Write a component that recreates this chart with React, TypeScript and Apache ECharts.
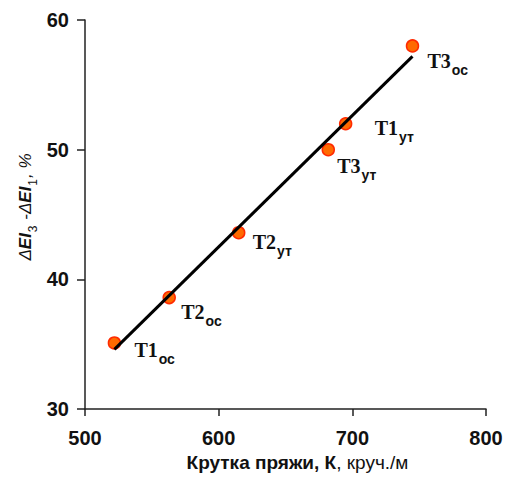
import React, { useEffect, useRef } from "react";
import * as echarts from "echarts";

// Data
const sampleNames = ["T1", "T2", "T2", "T3", "T1", "T3"];
const sampleSubs = ["ос", "ос", "ут", "ут", "ут", "ос"];
const twist = [522, 563, 615, 682, 695, 745];
const deltaEI = [35.1, 38.6, 43.6, 50.0, 52.0, 58.0];
const fitX = [522, 745];
const fitY = [34.6, 57.2];
const xTicks = [500, 600, 700, 800];
const yTicks = [30, 40, 50, 60];

// label offsets (style only)
const labelOffsets: [number, number][] = [
  [20, 10],
  [12, 17],
  [14, 12],
  [9, 19],
  [29, 7],
  [15, 18],
];

const SANS = "Liberation Sans, Arial, sans-serif";
const SERIF = "Liberation Serif, Times New Roman, serif";

export default function App() {
  const ref = useRef<HTMLDivElement>(null);
  useEffect(() => {
    if (!ref.current) return;
    const chart = echarts.init(ref.current, undefined, { renderer: "svg" });
    const axisColor = "#222";
    const option: any = {
      animation: false,
      grid: { left: 85, right: 20, top: 20, bottom: 67 },
      xAxis: {
        type: "value",
        min: xTicks[0],
        max: xTicks[xTicks.length - 1],
        interval: 100,
        axisLine: { show: true, onZero: false, lineStyle: { color: axisColor, width: 1.5 } },
        axisTick: { show: true, inside: false, length: 7, lineStyle: { color: axisColor, width: 1.5 } },
        splitLine: { show: false },
        axisLabel: {
          margin: 19,
          color: "#111",
          fontSize: 20,
          fontWeight: "bold",
          fontFamily: SANS,
        },
        name: "{b|Крутка пряжи, К}{n|, круч./м}",
        nameLocation: "middle",
        nameGap: 41,
        nameTextStyle: {
          padding: [0, 0, 0, 24],
          rich: {
            b: { fontSize: 19, fontWeight: "bold", color: "#111", fontFamily: SANS },
            n: { fontSize: 19, fontWeight: "normal", color: "#111", fontFamily: SANS },
          },
        },
      },
      yAxis: {
        type: "value",
        min: yTicks[0],
        max: yTicks[yTicks.length - 1],
        interval: 10,
        axisLine: { show: true, onZero: false, lineStyle: { color: axisColor, width: 1.5 } },
        axisTick: { show: true, inside: false, length: 8, lineStyle: { color: axisColor, width: 1.5 } },
        splitLine: { show: false },
        axisLabel: {
          margin: 16,
          color: "#111",
          fontSize: 20,
          fontWeight: "bold",
          fontFamily: SANS,
        },
      },
      graphic: [
        {
          type: "text",
          x: 28,
          y: 207,
          rotation: Math.PI / 2,
          style: {
            text: "{n|Δ}{e|EI}{s|3}{n| -Δ}{e|EI}{s|1}{n|, %}",
            align: "center",
            verticalAlign: "middle",
            rich: {
              n: { fontSize: 17, fontStyle: "italic", fill: "#111", fontFamily: SANS, verticalAlign: "top", lineHeight: 22 },
              e: { fontSize: 17, fontStyle: "italic", fontWeight: "bold", fill: "#111", fontFamily: SANS, verticalAlign: "top", lineHeight: 22 },
              s: { fontSize: 12, fill: "#111", fontFamily: SANS, verticalAlign: "bottom", lineHeight: 12, padding: [0, 1, 0, 1] },
            },
          },
        },
      ],
      series: [
        {
          type: "scatter",
          symbol: "circle",
          symbolSize: 12,
          z: 2,
          itemStyle: { color: "#ff6a00", borderColor: "#ff2a00", borderWidth: 1.5, opacity: 1 },
          data: twist.map((x, i) => ({
            value: [x, deltaEI[i]],
            label: {
              show: true,
              position: "inside",
              offset: [labelOffsets[i][0], labelOffsets[i][1]],
              align: "left",
              verticalAlign: "middle",
              formatter: `{a|${sampleNames[i]}}{b|${sampleSubs[i]}}`,
              rich: {
                a: { fontSize: 20, fontWeight: "bold", color: "#111", fontFamily: SERIF, verticalAlign: "top", lineHeight: 26 },
                b: { fontSize: 14, fontWeight: "bold", color: "#111", fontFamily: SANS, verticalAlign: "bottom", lineHeight: 14, padding: [0, 0, 0, 1] },
              },
            },
          })),
        },
        {
          type: "line",
          data: fitX.map((x, i) => [x, fitY[i]]),
          showSymbol: false,
          symbol: "none",
          z: 3,
          lineStyle: { color: "#000", width: 3 },
        },
      ],
    };
    chart.setOption(option);
    return () => chart.dispose();
  }, []);
  return (
    <div
      ref={ref}
      style={{ position: "fixed", left: 0, top: 0, width: 506, height: 477, background: "#fff" }}
    />
  );
}
